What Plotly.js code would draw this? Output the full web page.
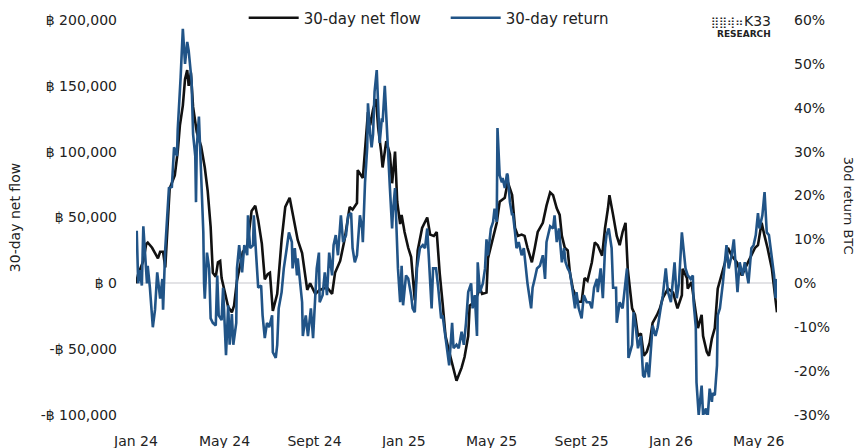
<!DOCTYPE html>
<html>
<head>
<meta charset="utf-8">
<script src="https://cdn.plot.ly/plotly-3.0.1.min.js"></script>
<style>html,body{margin:0;padding:0;background:#fff;}#chart{width:863px;height:448px;}</style>
</head>
<body>
<div id="chart"></div>
<script>
// 30-day net flow (BTC)
const flowDates = ["2024-01-01","2024-01-04","2024-01-11","2024-01-15","2024-01-17","2024-01-23","2024-01-27","2024-01-31","2024-02-03","2024-02-07","2024-02-10","2024-02-14","2024-02-16","2024-02-23","2024-02-27","2024-03-01","2024-03-05","2024-03-08","2024-03-11","2024-03-13","2024-03-16","2024-03-19","2024-03-24","2024-03-30","2024-04-04","2024-04-08","2024-04-12","2024-04-15","2024-04-19","2024-04-22","2024-04-25","2024-04-27","2024-05-02","2024-05-06","2024-05-11","2024-05-14","2024-05-18","2024-05-22","2024-05-26","2024-06-01","2024-06-07","2024-06-12","2024-06-16","2024-06-21","2024-06-25","2024-06-29","2024-07-02","2024-07-06","2024-07-12","2024-07-18","2024-07-23","2024-07-29","2024-08-02","2024-08-09","2024-08-15","2024-08-22","2024-08-26","2024-09-02","2024-09-08","2024-09-18","2024-09-25","2024-09-29","2024-10-06","2024-10-12","2024-10-19","2024-10-23","2024-10-29","2024-10-30","2024-11-06","2024-11-09","2024-11-13","2024-11-16","2024-11-20","2024-11-24","2024-11-27","2024-12-01","2024-12-03","2024-12-08","2024-12-13","2024-12-16","2024-12-20","2024-12-23","2024-12-27","2024-12-29","2025-01-02","2025-01-07","2025-01-11","2025-01-16","2025-01-20","2025-01-26","2025-02-02","2025-02-06","2025-02-11","2025-02-15","2025-02-19","2025-02-23","2025-02-27","2025-03-04","2025-03-09","2025-03-14","2025-03-21","2025-03-25","2025-03-30","2025-04-01","2025-04-08","2025-04-15","2025-04-18","2025-04-24","2025-04-26","2025-05-03","2025-05-08","2025-05-12","2025-05-19","2025-05-23","2025-05-29","2025-06-02","2025-06-06","2025-06-11","2025-06-15","2025-06-19","2025-06-25","2025-06-29","2025-07-03","2025-07-10","2025-07-15","2025-07-20","2025-07-24","2025-07-29","2025-08-02","2025-08-05","2025-08-09","2025-08-13","2025-08-16","2025-08-20","2025-08-27","2025-09-01","2025-09-05","2025-09-09","2025-09-15","2025-09-19","2025-09-23","2025-09-29","2025-10-03","2025-10-07","2025-10-09","2025-10-14","2025-10-19","2025-10-23","2025-10-27","2025-10-31","2025-11-03","2025-11-09","2025-11-13","2025-11-17","2025-11-21","2025-11-25","2025-11-29","2025-12-03","2025-12-07","2025-12-13","2025-12-17","2025-12-21","2025-12-28","2026-01-04","2026-01-10","2026-01-16","2026-01-17","2026-01-23","2026-01-24","2026-01-29","2026-02-03","2026-02-07","2026-02-12","2026-02-14","2026-02-19","2026-02-22","2026-02-26","2026-03-02","2026-03-06","2026-03-11","2026-03-16","2026-03-20","2026-03-25","2026-04-01","2026-04-08","2026-04-12","2026-04-19","2026-04-26","2026-04-30","2026-05-05","2026-05-09","2026-05-13","2026-05-19","2026-05-23","2026-05-26"];
const flowValues = [0,7000,17000,30000,31000,27000,23000,19000,24000,24000,12000,55000,72000,82000,100000,120000,135000,155000,162000,150000,160000,134000,115000,104000,88000,70000,43000,8000,5000,16000,17000,4000,-7000,-18000,-22000,-17000,2000,12000,24000,28000,55000,59000,48000,30000,3000,7000,8000,-21000,-8000,33000,58000,65000,53000,33000,23000,-5000,0,-8000,-5000,-3000,-8000,8000,17000,33000,58000,56000,61000,86000,80000,100000,130000,120000,132000,140000,118000,100000,88000,108000,98000,76000,100000,62000,45000,52000,39000,27000,20000,-13000,25000,42000,50000,37000,36000,39000,8000,-15000,-40000,-52000,-64000,-74000,-64000,-56000,-40000,-17000,-14000,-4000,-8000,-7000,19000,36000,46000,62000,65000,77000,67000,42000,36000,37000,36000,27000,16000,27000,39000,46000,59000,69000,67000,57000,52000,36000,27000,25000,8000,-4000,-14000,-14000,4000,2000,16000,31000,29000,21000,42000,57000,67000,52000,36000,29000,39000,46000,11000,-19000,-24000,-40000,-38000,-55000,-52000,-45000,-30000,-24000,-19000,-11000,-4000,-7000,-19000,-9000,11000,4000,-4000,1000,-17000,-34000,-24000,-40000,-52000,-55000,-42000,-34000,-4000,6000,16000,27000,21000,16000,6000,11000,19000,27000,29000,46000,36000,27000,11000,-11000,-22000];

// 30-day BTC return (%)
const returnDates = ["2024-01-02","2024-01-04","2024-01-06","2024-01-09","2024-01-11","2024-01-13","2024-01-16","2024-01-17","2024-01-20","2024-01-24","2024-01-27","2024-01-30","2024-02-03","2024-02-06","2024-02-07","2024-02-10","2024-02-12","2024-02-15","2024-02-19","2024-02-22","2024-02-26","2024-02-27","2024-03-02","2024-03-05","2024-03-08","2024-03-11","2024-03-13","2024-03-17","2024-03-19","2024-03-22","2024-03-23","2024-03-24","2024-03-27","2024-03-30","2024-04-02","2024-04-03","2024-04-04","2024-04-07","2024-04-10","2024-04-12","2024-04-15","2024-04-19","2024-04-21","2024-04-23","2024-04-27","2024-04-29","2024-05-03","2024-05-06","2024-05-08","2024-05-11","2024-05-13","2024-05-17","2024-05-18","2024-05-21","2024-05-25","2024-05-28","2024-06-01","2024-06-02","2024-06-05","2024-06-09","2024-06-10","2024-06-13","2024-06-16","2024-06-20","2024-06-22","2024-06-25","2024-06-28","2024-07-01","2024-07-05","2024-07-06","2024-07-10","2024-07-12","2024-07-14","2024-07-18","2024-07-21","2024-07-25","2024-07-28","2024-08-01","2024-08-02","2024-08-05","2024-08-08","2024-08-09","2024-08-12","2024-08-15","2024-08-16","2024-08-20","2024-08-23","2024-08-27","2024-08-30","2024-09-02","2024-09-04","2024-09-07","2024-09-08","2024-09-12","2024-09-15","2024-09-18","2024-09-21","2024-09-25","2024-09-27","2024-09-30","2024-10-03","2024-10-07","2024-10-10","2024-10-14","2024-10-17","2024-10-21","2024-10-23","2024-10-26","2024-10-29","2024-11-02","2024-11-05","2024-11-06","2024-11-09","2024-11-12","2024-11-13","2024-11-16","2024-11-18","2024-11-20","2024-11-22","2024-11-25","2024-11-27","2024-11-29","2024-12-02","2024-12-03","2024-12-06","2024-12-09","2024-12-10","2024-12-13","2024-12-16","2024-12-17","2024-12-20","2024-12-23","2024-12-24","2024-12-27","2024-12-29","2024-12-31","2025-01-04","2025-01-07","2025-01-11","2025-01-13","2025-01-16","2025-01-19","2025-01-23","2025-01-27","2025-01-30","2025-02-02","2025-02-04","2025-02-08","2025-02-10","2025-02-14","2025-02-17","2025-02-21","2025-02-23","2025-03-01","2025-03-04","2025-03-08","2025-03-10","2025-03-14","2025-03-17","2025-03-21","2025-03-24","2025-03-27","2025-03-30","2025-04-03","2025-04-05","2025-04-08","2025-04-11","2025-04-12","2025-04-15","2025-04-19","2025-04-22","2025-04-24","2025-04-26","2025-04-30","2025-05-03","2025-05-05","2025-05-08","2025-05-09","2025-05-12","2025-05-15","2025-05-16","2025-05-19","2025-05-22","2025-05-23","2025-05-26","2025-05-29","2025-05-30","2025-06-02","2025-06-04","2025-06-07","2025-06-11","2025-06-14","2025-06-17","2025-06-19","2025-06-24","2025-06-26","2025-06-29","2025-07-02","2025-07-06","2025-07-10","2025-07-13","2025-07-15","2025-07-20","2025-07-24","2025-07-26","2025-07-29","2025-08-01","2025-08-05","2025-08-08","2025-08-10","2025-08-13","2025-08-16","2025-08-20","2025-08-23","2025-08-25","2025-08-28","2025-09-01","2025-09-04","2025-09-08","2025-09-12","2025-09-15","2025-09-18","2025-09-22","2025-09-23","2025-09-27","2025-09-30","2025-10-03","2025-10-05","2025-10-08","2025-10-12","2025-10-14","2025-10-18","2025-10-19","2025-10-23","2025-10-27","2025-10-30","2025-11-02","2025-11-04","2025-11-09","2025-11-11","2025-11-14","2025-11-17","2025-11-21","2025-11-24","2025-11-26","2025-11-29","2025-12-02","2025-12-06","2025-12-07","2025-12-11","2025-12-14","2025-12-18","2025-12-21","2025-12-25","2025-12-28","2026-01-01","2026-01-04","2026-01-06","2026-01-09","2026-01-12","2026-01-16","2026-01-19","2026-01-21","2026-01-24","2026-01-28","2026-01-31","2026-02-01","2026-02-04","2026-02-05","2026-02-08","2026-02-12","2026-02-14","2026-02-18","2026-02-20","2026-02-23","2026-02-26","2026-02-27","2026-03-02","2026-03-05","2026-03-06","2026-03-09","2026-03-13","2026-03-16","2026-03-18","2026-03-21","2026-03-25","2026-03-28","2026-03-31","2026-04-02","2026-04-05","2026-04-09","2026-04-12","2026-04-15","2026-04-17","2026-04-21","2026-04-24","2026-04-27","2026-04-30","2026-05-02","2026-05-06","2026-05-09","2026-05-12","2026-05-15","2026-05-19","2026-05-22","2026-05-24","2026-05-26"];
const returnValues = [12,0,3,-0.5,13,8,0,4,-1,-10,-6,2.5,-3.5,1,-6,8,14,21.7,22,31,29,35,47,58,50,55,53,46,34,29,18.5,31,38,23,11.6,0,-3.5,7,3.4,-8,-9,-9.6,1.8,-7.3,-8.4,-1,-16.4,-5,-14,-7,-14,-9,3.4,8.7,2.5,8.7,6.4,15.5,8,8.7,15.5,7,-1,-0.5,-7.3,-12.5,-9,-10,-7.3,-15.7,-17,-14,-5.7,-2,3.4,8,11.6,9.4,3.4,8,1.8,5.7,0,-4.3,-12,-7.3,-12,-5.7,-12.5,-4.3,3.4,7,-4.3,-2.7,2.5,-2.7,7,1.8,8.7,11,6.4,15.5,9.4,11,15.5,16,8,4.8,6.4,15.5,12.5,9.4,23,31,41,34,31,34,43.6,48.6,40,32,37.6,36.7,45,34,29,21.7,12.5,16,21.7,9.4,3.4,-4.3,4,-5,1.8,1.1,-2.7,-5.7,-6.6,3.4,8,8.7,8,12.5,6.4,-5.7,3.4,3.4,-1,-8,-7.3,-14.8,-18.7,-9,-14.8,-14,-14.8,-11,-14,-9,-2,0,-5.7,-2.7,-12,4.8,-2,0,3.4,10,6.4,12.5,14,17,14,35.4,24.6,23,24,21.7,25,24.6,18.5,15.5,16,11.6,8,9.4,6.4,8,3.4,0,-5.7,-1,1.1,3.4,4,6.4,1,9.4,13,12.5,15.5,9.4,12.5,4.8,8,4.8,3.4,2.5,-2,-5.7,-2,-5.7,-8,-2.7,-4.3,-4.3,-5.7,-1,1,-2,3.4,-3.4,8,11,12.5,8,-1,-1,-9,-4.3,-5.7,-1,3.4,-17,-14,-6.6,-10,-14.8,-12,-21,-21.4,-18,-21.4,-12,-9.6,-12,-10,-5.7,-2.7,3.4,-2,-4.3,1,4.8,-3.4,0,11.6,6.4,3.4,1.8,1,1.8,-4.3,-10,-22.6,-30,-23.3,-30,-28.5,-31,-24,-27,-25,-25.5,-18.7,-7.3,-5.7,0,6.4,8.7,3.4,6.4,10,3.4,-2,4.8,1.8,4.8,1.8,0,8,8.7,11,16,12.5,15.5,20.8,11.6,11,6.4,1.8,-3.4,1];

// axis ticks
const flowTickVals = [-100000,-50000,0,50000,100000,150000,200000];
const flowTickText = ["-฿ 100,000","-฿ 50,000","฿ 0","฿ 50,000","฿ 100,000","฿ 150,000","฿ 200,000"];
const returnTickVals = [-30,-20,-10,0,10,20,30,40,50,60];
const returnTickText = ["-30%","-20%","-10%","0%","10%","20%","30%","40%","50%","60%"];
const dateTickVals = ["2024-01-01","2024-05-01","2024-09-01","2025-01-01","2025-05-01","2025-09-01","2026-01-01","2026-05-01"];
const dateTickText = ["Jan 24","May 24","Sept 24","Jan 25","May 25","Sept 25","Jan 26","May 26"];

const FONT = "DejaVu Sans, Noto Sans, sans-serif";
const TXT = "#222";

const traces = [
  {x: flowDates, y: flowValues, name: "30-day net flow", type: "scatter", mode: "lines",
   line: {color: "#111111", width: 2.6}, yaxis: "y"},
  {x: returnDates, y: returnValues, name: "30-day return", type: "scatter", mode: "lines",
   line: {color: "#215487", width: 2.6}, yaxis: "y2"}
];

const layout = {
  width: 863, height: 448,
  margin: {l: 136, r: 86, t: 20, b: 33, autoexpand: false},
  paper_bgcolor: "#fff", plot_bgcolor: "#fff",
  font: {family: FONT, size: 14, color: TXT},
  showlegend: true,
  legend: {orientation: "h", x: 0.168, xanchor: "left", y: 1.005, yanchor: "middle",
           font: {size: 15, color: TXT}, itemwidth: 50, entrywidth: 137, entrywidthmode: "pixels",
           bgcolor: "rgba(0,0,0,0)"},
  hovermode: false,
  xaxis: {type: "date", range: ["2024-01-01", "2026-05-26"], tickvals: dateTickVals, ticktext: dateTickText,
          showgrid: false, zeroline: false, showline: false, ticks: "", ticklabelstandoff: 16,
          tickfont: {size: 14, color: TXT}},
  yaxis: {range: [-100000, 200000], tickvals: flowTickVals, ticktext: flowTickText, showgrid: false,
          zeroline: true, zerolinecolor: "#e3e3e6", zerolinewidth: 2, showline: false, ticks: "",
          ticklabelstandoff: 18, tickfont: {size: 14, color: TXT},
          title: {text: "30-day net flow", font: {size: 14, color: TXT}, standoff: 16}},
  yaxis2: {range: [-30, 60], overlaying: "y", side: "right", tickvals: returnTickVals, ticktext: returnTickText,
           showgrid: false, zeroline: false, showline: false, ticks: "", ticklabelstandoff: 16,
           tickfont: {size: 14, color: TXT}},
  annotations: [
    {xref: "paper", yref: "paper", x: 1.1108, y: 0.53, xanchor: "center", yanchor: "middle", textangle: 90,
     text: "30d return BTC", showarrow: false, font: {family: FONT, size: 13, color: TXT}},
    {xref: "paper", yref: "paper", x: 0.8940, y: 0.9949, xanchor: "left", yanchor: "middle",
     text: "⣿⣿⢾⠶", showarrow: false, font: {family: "DejaVu Sans", size: 11, color: "#222"}},
    {xref: "paper", yref: "paper", x: 0.9938, y: 0.9975, xanchor: "right", yanchor: "middle",
     text: "K33", showarrow: false, font: {family: FONT, size: 14, color: "#222"}},
    {xref: "paper", yref: "paper", x: 0.9938, y: 0.9646, xanchor: "right", yanchor: "middle",
     text: "<b>RESEARCH</b>", showarrow: false, font: {family: "DejaVu Sans", size: 9, color: "#222"}}
  ]
};

Plotly.newPlot("chart", traces, layout, {displayModeBar: false, staticPlot: true});
</script>
</body>
</html>
